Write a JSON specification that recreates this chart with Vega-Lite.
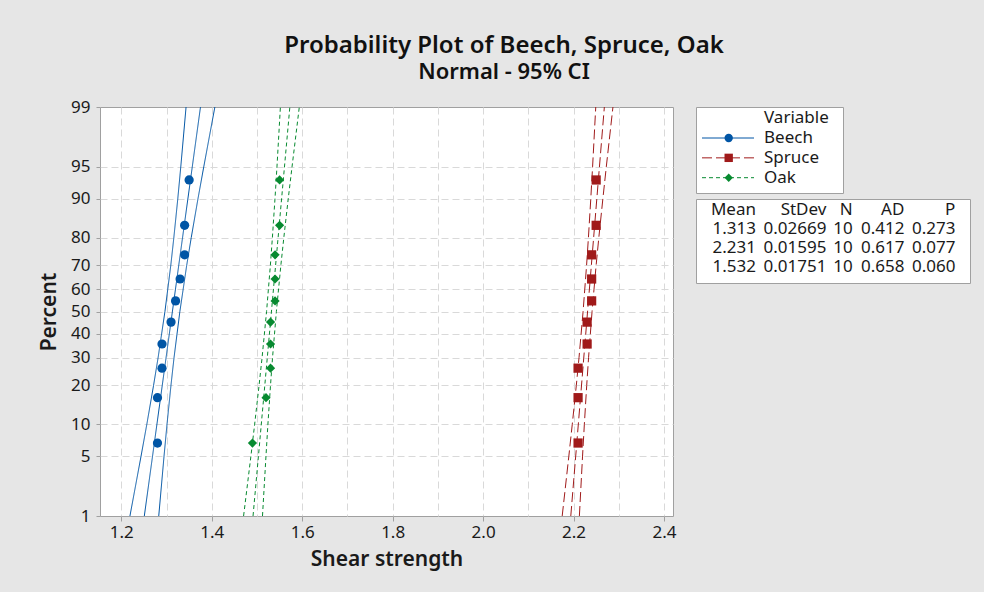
{
  "$schema": "https://vega.github.io/schema/vega-lite/v6.json",
  "background": "#e6e6e6",
  "padding": {"left": 38, "top": 33, "right": 13, "bottom": 22},
  "title": {
    "text": "Probability Plot of Beech, Spruce, Oak",
    "subtitle": "Normal - 95% CI",
    "anchor": "middle",
    "frame": "group",
    "dx": 404,
    "offset": 15,
    "font": "Noto Sans",
    "fontSize": 24,
    "fontWeight": 600,
    "color": "#111111",
    "subtitleFont": "Noto Sans",
    "subtitleFontSize": 22,
    "subtitleFontWeight": 600,
    "subtitleColor": "#111111",
    "subtitlePadding": 4
  },
  "config": {
    "view": {"fill": "white", "stroke": "#a0a0a0"},
    "font": "Noto Sans"
  },
  "bounds": "flush",
  "spacing": 23,
  "datasets": {
    "points": [
      {"Variable": "Beech", "Shear": 1.28, "Percent": 6.73},
      {"Variable": "Beech", "Shear": 1.28, "Percent": 16.35},
      {"Variable": "Beech", "Shear": 1.29, "Percent": 25.96},
      {"Variable": "Beech", "Shear": 1.29, "Percent": 35.58},
      {"Variable": "Beech", "Shear": 1.31, "Percent": 45.19},
      {"Variable": "Beech", "Shear": 1.32, "Percent": 54.81},
      {"Variable": "Beech", "Shear": 1.33, "Percent": 64.42},
      {"Variable": "Beech", "Shear": 1.34, "Percent": 74.04},
      {"Variable": "Beech", "Shear": 1.34, "Percent": 83.65},
      {"Variable": "Beech", "Shear": 1.35, "Percent": 93.27},
      {"Variable": "Spruce", "Shear": 2.21, "Percent": 6.73},
      {"Variable": "Spruce", "Shear": 2.21, "Percent": 16.35},
      {"Variable": "Spruce", "Shear": 2.21, "Percent": 25.96},
      {"Variable": "Spruce", "Shear": 2.23, "Percent": 35.58},
      {"Variable": "Spruce", "Shear": 2.23, "Percent": 45.19},
      {"Variable": "Spruce", "Shear": 2.24, "Percent": 54.81},
      {"Variable": "Spruce", "Shear": 2.24, "Percent": 64.42},
      {"Variable": "Spruce", "Shear": 2.24, "Percent": 74.04},
      {"Variable": "Spruce", "Shear": 2.25, "Percent": 83.65},
      {"Variable": "Spruce", "Shear": 2.25, "Percent": 93.27},
      {"Variable": "Oak", "Shear": 1.49, "Percent": 6.73},
      {"Variable": "Oak", "Shear": 1.52, "Percent": 16.35},
      {"Variable": "Oak", "Shear": 1.53, "Percent": 25.96},
      {"Variable": "Oak", "Shear": 1.53, "Percent": 35.58},
      {"Variable": "Oak", "Shear": 1.53, "Percent": 45.19},
      {"Variable": "Oak", "Shear": 1.54, "Percent": 54.81},
      {"Variable": "Oak", "Shear": 1.54, "Percent": 64.42},
      {"Variable": "Oak", "Shear": 1.54, "Percent": 74.04},
      {"Variable": "Oak", "Shear": 1.55, "Percent": 83.65},
      {"Variable": "Oak", "Shear": 1.55, "Percent": 93.27}
    ],
    "bands": [
      {"Variable": "Beech", "Line": "fit", "Percent": 1, "Shear": 1.2509},
      {"Variable": "Beech", "Line": "fit", "Percent": 99, "Shear": 1.3751},
      {"Variable": "Beech", "Line": "lower", "Percent": 1, "Shear": 1.2191},
      {"Variable": "Beech", "Line": "lower", "Percent": 5, "Shear": 1.2437},
      {"Variable": "Beech", "Line": "lower", "Percent": 10, "Shear": 1.2565},
      {"Variable": "Beech", "Line": "lower", "Percent": 20, "Shear": 1.2713},
      {"Variable": "Beech", "Line": "lower", "Percent": 30, "Shear": 1.2814},
      {"Variable": "Beech", "Line": "lower", "Percent": 50, "Shear": 1.2965},
      {"Variable": "Beech", "Line": "lower", "Percent": 70, "Shear": 1.3094},
      {"Variable": "Beech", "Line": "lower", "Percent": 80, "Shear": 1.3162},
      {"Variable": "Beech", "Line": "lower", "Percent": 90, "Shear": 1.3249},
      {"Variable": "Beech", "Line": "lower", "Percent": 95, "Shear": 1.3315},
      {"Variable": "Beech", "Line": "lower", "Percent": 99, "Shear": 1.3432},
      {"Variable": "Beech", "Line": "upper", "Percent": 1, "Shear": 1.2828},
      {"Variable": "Beech", "Line": "upper", "Percent": 5, "Shear": 1.2945},
      {"Variable": "Beech", "Line": "upper", "Percent": 10, "Shear": 1.3011},
      {"Variable": "Beech", "Line": "upper", "Percent": 20, "Shear": 1.3098},
      {"Variable": "Beech", "Line": "upper", "Percent": 30, "Shear": 1.3166},
      {"Variable": "Beech", "Line": "upper", "Percent": 50, "Shear": 1.3295},
      {"Variable": "Beech", "Line": "upper", "Percent": 70, "Shear": 1.3446},
      {"Variable": "Beech", "Line": "upper", "Percent": 80, "Shear": 1.3547},
      {"Variable": "Beech", "Line": "upper", "Percent": 90, "Shear": 1.3695},
      {"Variable": "Beech", "Line": "upper", "Percent": 95, "Shear": 1.3823},
      {"Variable": "Beech", "Line": "upper", "Percent": 99, "Shear": 1.4069},
      {"Variable": "Spruce", "Line": "fit", "Percent": 1, "Shear": 2.1939},
      {"Variable": "Spruce", "Line": "fit", "Percent": 99, "Shear": 2.2681},
      {"Variable": "Spruce", "Line": "lower", "Percent": 1, "Shear": 2.1749},
      {"Variable": "Spruce", "Line": "lower", "Percent": 5, "Shear": 2.1896},
      {"Variable": "Spruce", "Line": "lower", "Percent": 10, "Shear": 2.1972},
      {"Variable": "Spruce", "Line": "lower", "Percent": 20, "Shear": 2.2061},
      {"Variable": "Spruce", "Line": "lower", "Percent": 30, "Shear": 2.2121},
      {"Variable": "Spruce", "Line": "lower", "Percent": 50, "Shear": 2.2211},
      {"Variable": "Spruce", "Line": "lower", "Percent": 70, "Shear": 2.2288},
      {"Variable": "Spruce", "Line": "lower", "Percent": 80, "Shear": 2.2329},
      {"Variable": "Spruce", "Line": "lower", "Percent": 90, "Shear": 2.2381},
      {"Variable": "Spruce", "Line": "lower", "Percent": 95, "Shear": 2.2421},
      {"Variable": "Spruce", "Line": "lower", "Percent": 99, "Shear": 2.2491},
      {"Variable": "Spruce", "Line": "upper", "Percent": 1, "Shear": 2.2129},
      {"Variable": "Spruce", "Line": "upper", "Percent": 5, "Shear": 2.2199},
      {"Variable": "Spruce", "Line": "upper", "Percent": 10, "Shear": 2.2239},
      {"Variable": "Spruce", "Line": "upper", "Percent": 20, "Shear": 2.2291},
      {"Variable": "Spruce", "Line": "upper", "Percent": 30, "Shear": 2.2332},
      {"Variable": "Spruce", "Line": "upper", "Percent": 50, "Shear": 2.2409},
      {"Variable": "Spruce", "Line": "upper", "Percent": 70, "Shear": 2.2499},
      {"Variable": "Spruce", "Line": "upper", "Percent": 80, "Shear": 2.2559},
      {"Variable": "Spruce", "Line": "upper", "Percent": 90, "Shear": 2.2648},
      {"Variable": "Spruce", "Line": "upper", "Percent": 95, "Shear": 2.2724},
      {"Variable": "Spruce", "Line": "upper", "Percent": 99, "Shear": 2.2871},
      {"Variable": "Oak", "Line": "fit", "Percent": 1, "Shear": 1.4913},
      {"Variable": "Oak", "Line": "fit", "Percent": 99, "Shear": 1.5727},
      {"Variable": "Oak", "Line": "lower", "Percent": 1, "Shear": 1.4704},
      {"Variable": "Oak", "Line": "lower", "Percent": 5, "Shear": 1.4866},
      {"Variable": "Oak", "Line": "lower", "Percent": 10, "Shear": 1.4949},
      {"Variable": "Oak", "Line": "lower", "Percent": 20, "Shear": 1.5046},
      {"Variable": "Oak", "Line": "lower", "Percent": 30, "Shear": 1.5113},
      {"Variable": "Oak", "Line": "lower", "Percent": 50, "Shear": 1.5212},
      {"Variable": "Oak", "Line": "lower", "Percent": 70, "Shear": 1.5296},
      {"Variable": "Oak", "Line": "lower", "Percent": 80, "Shear": 1.5341},
      {"Variable": "Oak", "Line": "lower", "Percent": 90, "Shear": 1.5398},
      {"Variable": "Oak", "Line": "lower", "Percent": 95, "Shear": 1.5442},
      {"Variable": "Oak", "Line": "lower", "Percent": 99, "Shear": 1.5518},
      {"Variable": "Oak", "Line": "upper", "Percent": 1, "Shear": 1.5122},
      {"Variable": "Oak", "Line": "upper", "Percent": 5, "Shear": 1.5199},
      {"Variable": "Oak", "Line": "upper", "Percent": 10, "Shear": 1.5242},
      {"Variable": "Oak", "Line": "upper", "Percent": 20, "Shear": 1.5299},
      {"Variable": "Oak", "Line": "upper", "Percent": 30, "Shear": 1.5344},
      {"Variable": "Oak", "Line": "upper", "Percent": 50, "Shear": 1.5429},
      {"Variable": "Oak", "Line": "upper", "Percent": 70, "Shear": 1.5528},
      {"Variable": "Oak", "Line": "upper", "Percent": 80, "Shear": 1.5594},
      {"Variable": "Oak", "Line": "upper", "Percent": 90, "Shear": 1.5691},
      {"Variable": "Oak", "Line": "upper", "Percent": 95, "Shear": 1.5775},
      {"Variable": "Oak", "Line": "upper", "Percent": 99, "Shear": 1.5936}
    ],
    "legendRows": [
      {"Variable": "Beech"},
      {"Variable": "Spruce"},
      {"Variable": "Oak"}
    ],
    "stats": [
      {"Row": "Header", "Mean": "Mean", "StDev": "StDev", "N": "N", "AD": "AD", "P": "P"},
      {"Row": "Beech", "Mean": "1.313", "StDev": "0.02669", "N": "10", "AD": "0.412", "P": "0.273"},
      {"Row": "Spruce", "Mean": "2.231", "StDev": "0.01595", "N": "10", "AD": "0.617", "P": "0.077"},
      {"Row": "Oak", "Mean": "1.532", "StDev": "0.01751", "N": "10", "AD": "0.658", "P": "0.060"}
    ]
  },
  "hconcat": [
    {
      "width": 573,
      "height": 409,
      "layer": [
        {
          "data": {"name": "bands"},
          "transform": [{"calculate": "quantileNormal(datum.Percent / 100)", "as": "z"}],
          "mark": {"type": "line", "strokeWidth": 1, "clip": true},
          "encoding": {
            "x": {
              "field": "Shear", "type": "quantitative",
              "scale": {"domain": [1.1529, 2.4199], "nice": false, "zero": false},
              "axis": {
                "values": [1.2, 1.3, 1.4, 1.5, 1.6, 1.7, 1.8, 1.9, 2.0, 2.1, 2.2, 2.3, 2.4],
                "tickCount": 30,
                "title": "Shear strength",
                "labelExpr": "round(datum.value * 10) % 2 == 0 ? format(datum.value, '.1f') : ''",
                "tickOpacity": {"condition": {"test": "round(datum.value * 10) % 2 == 0", "value": 1}, "value": 0},
                "grid": true, "gridColor": "#d9d9d9", "gridDash": [7, 4], "gridWidth": 1,
                "domain": false, "tickColor": "#a0a0a0", "tickSize": 5,
                "labelFont": "Noto Sans", "labelFontSize": 17, "labelColor": "#1a1a1a", "labelPadding": 3,
                "labelOverlap": false, "labelFlush": false, "labelBound": false,
                "titleFont": "Noto Sans", "titleFontSize": 21, "titleFontWeight": 600, "titleColor": "#1a1a1a", "titlePadding": 8
              }
            },
            "y": {
              "field": "z", "type": "quantitative",
              "scale": {"domain": [-2.3263478740408408, 2.3263478740408408], "nice": false, "zero": false},
              "axis": {
                "values": [-2.3263478740408408, -1.6448536269514729, -1.2815515655446004, -0.8416212335729142, -0.5244005127080407, -0.2533471031357997, 0, 0.2533471031357997, 0.5244005127080407, 0.8416212335729142, 1.2815515655446004, 1.6448536269514729, 2.3263478740408408],
                "tickCount": 30,
                "title": "Percent",
                "labelExpr": "format(cumulativeNormal(datum.value) * 100, '.0f')",
                "grid": true, "gridColor": "#d9d9d9", "gridDash": [7, 4], "gridWidth": 1,
                "gridOpacity": {"condition": {"test": "abs(datum.value) > 2.3", "value": 0}, "value": 1},
                "domain": false, "tickColor": "#a0a0a0", "tickSize": 4,
                "labelFont": "Noto Sans", "labelFontSize": 17, "labelColor": "#1a1a1a", "labelPadding": 6,
                "labelOverlap": false, "labelFlush": false, "labelBound": false,
                "titleFont": "Noto Sans", "titleFontSize": 21, "titleFontWeight": 600, "titleColor": "#1a1a1a", "titlePadding": 11
              }
            },
            "color": {
              "field": "Variable", "type": "nominal",
              "scale": {"domain": ["Beech", "Spruce", "Oak"], "range": ["#0055a5", "#a01a1a", "#078a30"]},
              "legend": null
            },
            "strokeDash": {
              "field": "Variable", "type": "nominal",
              "scale": {"domain": ["Beech", "Spruce", "Oak"], "range": [[1, 0], [10, 4], [4, 3]]},
              "legend": null
            },
            "detail": {"field": "Line", "type": "nominal"},
            "order": {"field": "Percent", "type": "quantitative"}
          }
        },
        {
          "data": {"name": "points"},
          "transform": [{"calculate": "quantileNormal(datum.Percent / 100)", "as": "z"}],
          "mark": {"type": "point", "filled": true, "opacity": 1, "size": 85},
          "encoding": {
            "x": {"field": "Shear", "type": "quantitative"},
            "y": {"field": "z", "type": "quantitative"},
            "color": {"field": "Variable", "type": "nominal", "legend": null},
            "shape": {
              "field": "Variable", "type": "nominal",
              "scale": {"domain": ["Beech", "Spruce", "Oak"], "range": ["circle", "square", "diamond"]},
              "legend": null
            }
          }
        }
      ]
    },
    {
      "vconcat": [
        {
          "width": 147,
          "height": 86,
          "data": {"name": "legendRows"},
          "layer": [
            {
              "mark": {"type": "rule", "strokeWidth": 1},
              "encoding": {
                "y": {"field": "Variable", "type": "nominal", "scale": {"type": "point", "domain": ["Beech", "Spruce", "Oak"], "range": [31, 70.7], "padding": 0}, "axis": null},
                "x": {"value": 6},
                "x2": {"value": 58},
                "color": {"field": "Variable", "type": "nominal", "legend": null},
                "strokeDash": {"field": "Variable", "type": "nominal", "legend": null}
              }
            },
            {
              "mark": {"type": "point", "filled": true, "opacity": 1, "size": 70},
              "encoding": {
                "y": {"field": "Variable", "type": "nominal", "axis": null},
                "x": {"value": 32.7},
                "color": {"field": "Variable", "type": "nominal", "legend": null},
                "shape": {"field": "Variable", "type": "nominal", "legend": null}
              }
            },
            {
              "mark": {"type": "text", "align": "left", "baseline": "middle", "font": "Noto Sans", "fontSize": 17, "color": "#1a1a1a"},
              "encoding": {
                "y": {"field": "Variable", "type": "nominal", "axis": null},
                "x": {"value": 68},
                "text": {"field": "Variable", "type": "nominal"}
              }
            },
            {
              "data": {"values": [{"Heading": "Variable"}]},
              "mark": {"type": "text", "align": "left", "baseline": "middle", "font": "Noto Sans", "fontSize": 17, "color": "#1a1a1a"},
              "encoding": {
                "x": {"value": 68},
                "y": {"value": 10.5},
                "text": {"field": "Heading", "type": "nominal"}
              }
            }
          ]
        },
        {
          "width": 274,
          "height": 84,
          "data": {"name": "stats"},
          "encoding": {
            "y": {"field": "Row", "type": "nominal", "scale": {"type": "point", "domain": ["Header", "Beech", "Spruce", "Oak"], "range": [11, 68.4], "padding": 0}, "axis": null}
          },
          "layer": [
            {"mark": {"type": "text", "align": "right", "baseline": "middle", "font": "Noto Sans", "fontSize": 17, "color": "#1a1a1a"}, "encoding": {"x": {"value": 60}, "text": {"field": "Mean", "type": "nominal"}}},
            {"mark": {"type": "text", "align": "right", "baseline": "middle", "font": "Noto Sans", "fontSize": 17, "color": "#1a1a1a"}, "encoding": {"x": {"value": 130.4}, "text": {"field": "StDev", "type": "nominal"}}},
            {"mark": {"type": "text", "align": "right", "baseline": "middle", "font": "Noto Sans", "fontSize": 17, "color": "#1a1a1a"}, "encoding": {"x": {"value": 156.7}, "text": {"field": "N", "type": "nominal"}}},
            {"mark": {"type": "text", "align": "right", "baseline": "middle", "font": "Noto Sans", "fontSize": 17, "color": "#1a1a1a"}, "encoding": {"x": {"value": 208.4}, "text": {"field": "AD", "type": "nominal"}}},
            {"mark": {"type": "text", "align": "right", "baseline": "middle", "font": "Noto Sans", "fontSize": 17, "color": "#1a1a1a"}, "encoding": {"x": {"value": 259.4}, "text": {"field": "P", "type": "nominal"}}}
          ]
        }
      ],
      "spacing": 6,
      "bounds": "flush"
    }
  ]
}
